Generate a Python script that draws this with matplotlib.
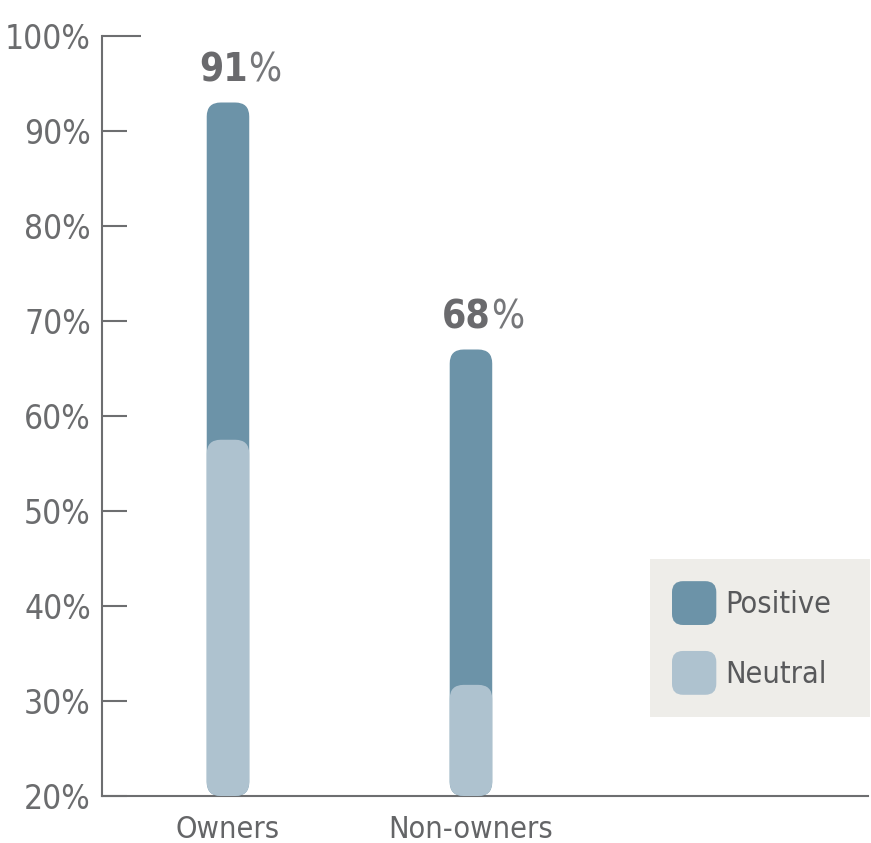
import matplotlib
matplotlib.use("Agg")
import matplotlib.pyplot as plt
from matplotlib.patches import FancyBboxPatch, Patch
from matplotlib.legend_handler import HandlerPatch

# Datos
categorias = ["Owners", "Non-owners"]
positivo = [93.0, 67.0]    # tope de la barra oscura (%)
neutral = [57.5, 31.7]     # tope de la barra clara (%)
etiquetas = ["91", "68"]   # valores impresos sobre las barras
ticks_y = [20, 30, 40, 50, 60, 70, 80, 90, 100]

COLOR_POS = "#6c93a8"
COLOR_NEU = "#aec2cf"
GRIS = "#6d6e70"
FONDO_LEYENDA = "#eeede9"

plt.rcParams["font.family"] = ["Liberation Sans Narrow", "DejaVu Sans"]
plt.rcParams["font.stretch"] = "condensed"

fig = plt.figure(figsize=(8.71, 8.43), dpi=100)
ax = fig.add_axes([102 / 871, 47 / 843, 766 / 871, 760 / 843])
ax.set_xlim(-0.5185, 2.634)
ax.set_ylim(20, 100)

# relación px por unidad en x / px por unidad en y
fig.canvas.draw()
(x0, y0), (x1, y1) = ax.transData.transform([(0, 20), (1, 30)])
aspecto = ((x1 - x0) / 1.0) / ((y1 - y0) / 10.0)
ancho = 0.175
radio = 14 / (x1 - x0)


def barra_redondeada(x, tope, color):
    p = FancyBboxPatch((x - ancho / 2, 20), ancho, tope - 20,
                       boxstyle=f"round,pad=0,rounding_size={radio}",
                       mutation_aspect=aspecto, facecolor=color,
                       edgecolor="none", zorder=3, clip_on=False)
    ax.add_patch(p)


for i, cat in enumerate(categorias):
    barra_redondeada(i, positivo[i], COLOR_POS)
    barra_redondeada(i, neutral[i], COLOR_NEU)

    # número en negrita + % normal
    num = ax.annotate(etiquetas[i], xy=(i, positivo[i]), xytext=(20, 13),
                      textcoords="offset pixels", ha="right", va="bottom",
                      fontsize=28, fontweight="bold", color="#6a6a6d")
    ax.annotate("%", xy=(1, 0), xycoords=num, xytext=(0, 0),
                textcoords="offset pixels", ha="left", va="bottom",
                fontsize=28, color="#76777a")

# ejes
for lado in ["top", "right"]:
    ax.spines[lado].set_visible(False)
for lado in ["left", "bottom"]:
    ax.spines[lado].set_color(GRIS)
    ax.spines[lado].set_linewidth(1.5)

ax.set_yticks(ticks_y)
ax.set_yticklabels([f"{v}%" for v in ticks_y])
ax.tick_params(axis="y", direction="in", length=18, width=1.5, color=GRIS,
               labelsize=24, labelcolor="#6b6c6e", pad=8)
ax.yaxis.get_major_ticks()[-1].tick1line.set_markersize(28)

ax.set_xticks(range(len(categorias)))
ax.set_xticklabels(categorias)
ax.tick_params(axis="x", length=0, labelsize=22, labelcolor="#646567", pad=14)


# leyenda con cuadros redondeados
class HandlerRedondo(HandlerPatch):
    def create_artists(self, legend, orig_handle, xdescent, ydescent,
                       width, height, fontsize, trans):
        p = FancyBboxPatch((-xdescent, -ydescent), width, height,
                           boxstyle=f"round,pad=0,rounding_size={height * 0.25}",
                           facecolor=orig_handle.get_facecolor(),
                           edgecolor="none", transform=trans)
        return [p]


handles = [Patch(facecolor=COLOR_POS, label="Positive"),
           Patch(facecolor=COLOR_NEU, label="Neutral")]
leg = fig.legend(handles=handles, loc="upper left",
                 bbox_to_anchor=(650 / 871, 1 - 560 / 843, 220 / 871, 0.001),
                 mode="expand", fontsize=22, frameon=True, fancybox=False,
                 facecolor=FONDO_LEYENDA, edgecolor="none", framealpha=1,
                 handlelength=1.45, handleheight=1.83, handletextpad=0.3,
                 labelspacing=0.85, borderpad=0.72, borderaxespad=0,
                 handler_map={Patch: HandlerRedondo()})
for t in leg.get_texts():
    t.set_color("#58595b")

fig.savefig("out.png", dpi=100)
